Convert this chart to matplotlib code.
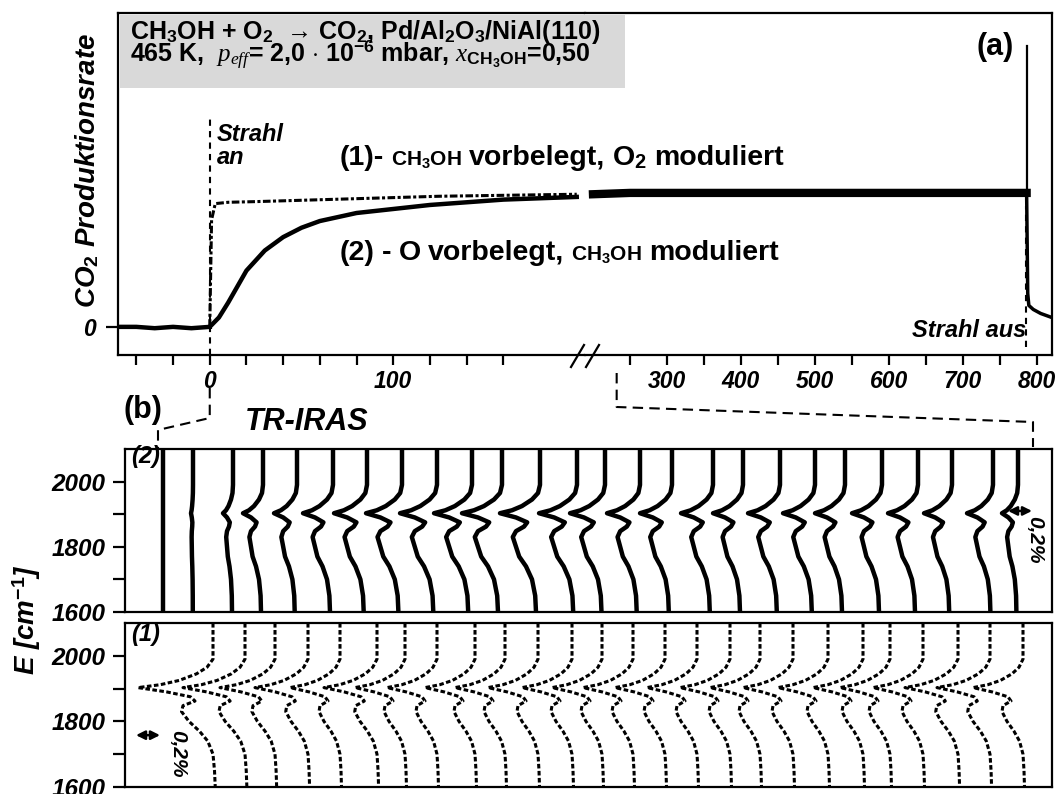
import matplotlib
matplotlib.use('Agg')
import matplotlib.pyplot as plt
import matplotlib.transforms as mtransforms
from matplotlib.lines import Line2D
from matplotlib.patches import Rectangle
import numpy as np

plt.rcParams.update({
    'font.family': ['Liberation Sans', 'DejaVu Sans'],
    'font.weight': 'bold',
    'font.style': 'italic',
    'mathtext.fontset': 'custom',
    'mathtext.rm': 'Liberation Sans:bold:roman',
    'mathtext.bf': 'Liberation Sans:bold:roman',
    'mathtext.it': 'Liberation Serif:italic:normal',
    'mathtext.default': 'it',
    'axes.linewidth': 1.6,
})

# ---- (a) CO2 production rate (normalised) vs time [s]
t_pre = [-50, -40, -30, -20, -10, 0]
y_pre = [0.0, 0.0, -0.01, 0.0, -0.01, 0.0]

# (1) CH3OH pre-covered, O2 modulated
t_1 = [0, 1, 3, 10, 25, 50, 75, 100, 125, 150, 175, 200]
y_1 = [0.0, 0.8, 0.92, 0.93, 0.935, 0.945, 0.955, 0.965, 0.975, 0.98, 0.985, 0.99]

# (2) O pre-covered, CH3OH modulated
t_2 = [0, 5, 10, 15, 20, 30, 40, 50, 60, 80, 100, 120, 140, 160, 180, 200]
y_2 = [0.0, 0.07, 0.18, 0.3, 0.42, 0.57, 0.67, 0.74, 0.79, 0.85, 0.88, 0.91, 0.93, 0.95, 0.96, 0.97]

# long run (both curves overlap)
t_long = [200, 250, 300, 350, 400, 450, 500, 550, 600, 650, 700, 750, 786]
y_long = [0.99, 1.0, 1.0, 1.0, 1.0, 1.0, 1.0, 1.0, 1.0, 1.0, 1.0, 1.0, 1.0]
t_off = [786, 787.5, 789, 795, 805, 820]
y_off = [1.0, 0.25, 0.16, 0.13, 0.1, 0.07]
t_spike = [787, 787]
y_spike = [1.0, 2.1]

t_beam_on = 0
t_beam_off = 785
t_irasstart = 232

# ---- (b) TR-IRAS waterfall, E [cm-1]
E_prof = [2100, 2040, 1990, 1965, 1945, 1925, 1912, 1903, 1890, 1875, 1862,
          1848, 1830, 1800, 1770, 1740, 1700, 1650, 1600]
prof_1 = [0, 0, 0, -0.08, -0.22, -0.45, -0.7, -1.0, -0.62, -0.3, -0.24,
          -0.4, -0.42, -0.32, -0.18, -0.07, 0.0, 0.02, 0.03]
prof_2 = [0, 0, 0, -0.05, -0.2, -0.45, -0.7, -1.0, -0.6, -0.32, -0.4,
          -0.6, -0.68, -0.6, -0.52, -0.35, -0.2, -0.12, -0.1]

offs_2 = [163, 193, 233, 263, 297, 333, 367, 402, 437, 472, 502, 540, 577,
          605, 640, 672, 713, 743, 780, 815, 845, 882, 918, 952, 993, 1018]
amp_2 = [0, 2, 10, 20, 23, 30, 33, 36, 37, 38, 40, 40, 38,
         35, 33, 32, 32, 30, 32, 32, 30, 30, 30, 28, 26, 16]
offs_1 = [213, 245, 275, 308, 340, 377, 405, 437, 475, 505, 538, 572, 602,
          633, 665, 697, 730, 760, 793, 828, 863, 890, 923, 958, 990, 1023]
amp_1 = [75, 62, 55, 53, 50, 53, 50, 50, 50, 50, 50, 50, 50,
         50, 50, 50, 50, 50, 50, 50, 50, 50, 50, 53, 53, 50]
bar_02 = 24  # 0,2 % in offset units

W, H = 1055, 794
fig = plt.figure(figsize=(W / 100, H / 100), dpi=100)


def fa(x0, y0, x1, y1):
    return [x0 / W, 1 - y1 / H, (x1 - x0) / W, (y1 - y0) / H]


ax_l = fig.add_axes(fa(118, 13, 585, 355))
ax_r = fig.add_axes(fa(585, 13, 1052, 355))
ax_2 = fig.add_axes(fa(125, 449, 1052, 612))
ax_1 = fig.add_axes(fa(125, 623, 1052, 787))

# ---- panel (a)
ylim_a = (-0.21, 2.343)
ax_l.plot(t_pre, y_pre, 'k-', lw=3.2)
ax_l.plot(t_2, y_2, 'k-', lw=3.2)
ax_l.plot(t_1, y_1, 'k-', lw=2.2, dashes=(2.5, 0.8, 1, 0.8))
ax_l.plot([t_beam_on, t_beam_on], [ylim_a[0], 1.57], 'k--', lw=1.5, dashes=(3, 2.5))
ax_l.set_xlim(-50, 204.5)
ax_l.set_ylim(*ylim_a)
ax_l.set_xticks([0, 100])
ax_l.set_xticks([-40, -20, 20, 40, 60, 80, 120, 140, 160], minor=True)
ax_l.set_yticks([0])
ax_l.spines['right'].set_visible(False)

ax_r.plot(t_long, y_long, 'k-', lw=6)
ax_r.plot(t_off, y_off, 'k-', lw=2.5)
ax_r.plot(t_spike, y_spike, 'k-', lw=1.6)
ax_r.plot([t_beam_off, t_beam_off], [-0.15, 0.9], 'k--', lw=1.5, dashes=(3, 2.5))
ax_r.set_xlim(189.2, 820.3)
ax_r.set_ylim(*ylim_a)
ax_r.set_xticks([300, 400, 500, 600, 700, 800])
ax_r.set_xticks([250, 350, 450, 550, 650, 750], minor=True)
ax_r.set_yticks([])
ax_r.spines['left'].set_visible(False)

for ax in (ax_l, ax_r):
    ax.tick_params(which='both', direction='out', length=7, width=1.6,
                   labelsize=16.5, pad=4)
ax_l.tick_params(axis='y', length=9, pad=7, labelsize=16.5)

ax_l.text(4, 1.52, 'Strahl\nan', fontsize=17, ha='left', va='top', linespacing=1.0)
ax_r.text(786, -0.075, 'Strahl aus', fontsize=17, ha='right', va='baseline')

# break marks
for dx in (-14, 1):
    fig.add_artist(Line2D([(585 + dx) / W, (585 + dx + 13) / W],
                          [1 - 367 / H, 1 - 345 / H], color='k', lw=1.6))

# grey header box
fig.add_artist(Rectangle((119.5 / W, 1 - 88 / H), (625 - 119.5) / W, (88 - 14.5) / H,
                         transform=fig.transFigure, fc='#d9d9d9', ec='none', zorder=1))
fig.text(130 / W, 1 - 39 / H,
         r'CH$_3$OH + O$_2$  → CO$_2$, Pd/Al$_2$O$_3$/NiAl(110)',
         fontsize=18, style='normal', va='baseline', zorder=2)
fig.text(130 / W, 1 - 62 / H,
         r'465 K,  $p_{eff}$= 2,0 $\cdot$ 10$^{-6}$ mbar, $x_{\mathrm{CH_3OH}}$=0,50',
         fontsize=18, style='normal', va='baseline', zorder=2)

fig.text(977 / W, 1 - 47 / H, '(a)', fontsize=22, style='normal', va='center')
fig.text(143 / W, 1 - 410 / H, '(b)', fontsize=22, style='normal', va='center', ha='center')
fig.text(307 / W, 1 - 422 / H, 'TR-IRAS', fontsize=22, va='center', ha='center')

fig.text(87 / W, 1 - 170 / H, 'CO$_2$ Produktionsrate', fontsize=20,
         rotation=90, ha='center', va='center')
fig.text(27 / W, 1 - 620 / H, 'E [cm$^{-1}$]', fontsize=20,
         rotation=90, ha='center', va='center')

renderer = fig.canvas.get_renderer()


def rich(x_px, y_px, parts):
    dx = 0
    for s, size, gap in parts:
        tr = mtransforms.offset_copy(fig.transFigure, fig=fig, x=dx, y=0, units='dots')
        t = fig.text(x_px / W, 1 - y_px / H, s, fontsize=size, style='normal',
                     va='baseline', ha='left', transform=tr)
        dx += t.get_window_extent(renderer).width + gap


rich(340, 165, [('(1)-', 20.5, 7), (r'CH$_3$OH', 15, 7), ('vorbelegt,', 20.5, 7),
                (r'O$_2$', 20.5, 7), ('moduliert', 20.5, 0)])
rich(340, 260, [('(2)', 20.5, 7), ('-', 20.5, 7), ('O', 20.5, 7), ('vorbelegt,', 20.5, 7),
                (r'CH$_3$OH', 15, 7), ('moduliert', 20.5, 0)])

# connectors from time axis to IRAS panel
x0 = ax_l.transData.transform((t_beam_on, 0))[0]
x1 = ax_r.transData.transform((t_irasstart, 0))[0]
for xs, ys in (([x0, x0, 158, 158], [388, 418, 430, 449]),
               ([x1, x1, 1033, 1033], [373, 407, 422, 447])):
    fig.add_artist(Line2D(xs, [H - y for y in ys], color='k', lw=1.5,
                          dashes=(5, 3), transform=mtransforms.IdentityTransform()))

# ---- panel (b)
E_arr = np.array(E_prof)
for o, a in zip(offs_2, amp_2):
    ax_2.plot(o + a * np.array(prof_2), E_arr, 'k-', lw=3.2)
for o, a in zip(offs_1, amp_1):
    ax_1.plot(o + a * np.array(prof_1), E_arr, 'k-', lw=2.2, dashes=(1.5, 0.8))

for ax, lab, lab_y in ((ax_2, '(2)', 2058), (ax_1, '(1)', 2045)):
    ax.set_xlim(125, 1052)
    ax.set_ylim(1600, 2100)
    ax.set_xticks([])
    ax.set_yticks([1600, 1800, 2000])
    ax.set_yticks([1700, 1900], minor=True)
    ax.tick_params(which='both', direction='out', length=9, width=1.6,
                   labelsize=17.5, pad=5)
    ax.text(131, lab_y, lab, fontsize=17, ha='left', va='baseline')

arrow = dict(arrowstyle='<|-|>', lw=1.8, color='k', mutation_scale=13,
             shrinkA=0, shrinkB=0)
ax_2.annotate('', xy=(1008, 1910), xytext=(1008 + bar_02, 1910), arrowprops=arrow)
ax_2.text(1035, 1895, '0,2%', rotation=-90, fontsize=15, ha='center', va='top')
ax_1.annotate('', xy=(136, 1758), xytext=(136 + bar_02, 1758), arrowprops=arrow)
ax_1.text(178, 1775, '0,2%', rotation=-90, fontsize=15, ha='center', va='top')

fig.savefig('out.png', dpi=100)
